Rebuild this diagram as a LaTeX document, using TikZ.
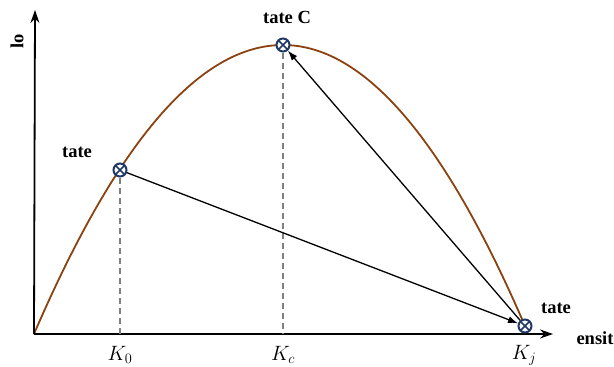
\documentclass[tikz,border=0pt]{standalone}
\usepackage{fontspec}
\setmainfont{Liberation Serif}
\usetikzlibrary{arrows.meta}
\definecolor{curvebrown}{RGB}{140,66,16}
\definecolor{marknavy}{RGB}{31,56,100}
\begin{document}
\begin{tikzpicture}[x=1pt,y=-1pt,
  axisline/.style={line width=1.8pt,-{Stealth[length=13pt,width=9pt]}},
  conn/.style={line width=1.3pt,-{Latex[length=10pt,width=7pt]}},
  guide/.style={gray,line width=1.4pt,dash pattern=on 6pt off 4pt},
  marker/.style={circle,draw=marknavy,line width=2pt,fill=white,minimum size=13pt,inner sep=0pt,
    path picture={\draw[marknavy,line width=1.6pt]
      (path picture bounding box.north west)--(path picture bounding box.south east)
      (path picture bounding box.north east)--(path picture bounding box.south west);}},
  lab/.style={font=\fontsize{18.5}{22}\selectfont\bfseries},
  klab/.style={font=\fontsize{20}{23}\selectfont}]
\useasboundingbox (0,0) rectangle (614,367);
\coordinate (O) at (34,334);
\coordinate (Ytip) at (35,10);
\coordinate (Xtip) at (553,334);
\coordinate (A0) at (120,334);
\coordinate (C0) at (283,334);
% curve
\draw[curvebrown,line width=1.8pt] (34,334) .. controls (117,141.3) and (200,45) .. (283,45)
  .. controls (363.7,45) and (444.3,138.7) .. (525,326);
% axes
\draw[axisline] (O) -- (Ytip);
\draw[axisline] (O) -- (Xtip);
% markers
\node[marker] (A) at (120,170) {};
\node[marker] (C) at (283,45) {};
\node[marker] (J) at (525,326) {};
% guides
\draw[guide] (A.south) -- (A0);
\draw[guide] (C.south) -- (C0);
% connectors
\draw[conn] (A) -- (J);
\draw[conn] (J) -- (C);
% labels
\node[lab,rotate=90] (ylab) at (17,41) {lo};
\node[lab] (xlab) at (595,338) {ensit};
\node[lab] (lc) at (287,17) {tate C};
\node[lab] (la) at (77,152) {tate};
\node[lab] (lj) at (556,308) {tate};
\node[klab] (k0) at (120,355) {$K_0$};
\node[klab] (kc) at (283,355) {$K_c$};
\node[klab] (kj) at (524,355) {$K_j$};
\end{tikzpicture}
\end{document}
